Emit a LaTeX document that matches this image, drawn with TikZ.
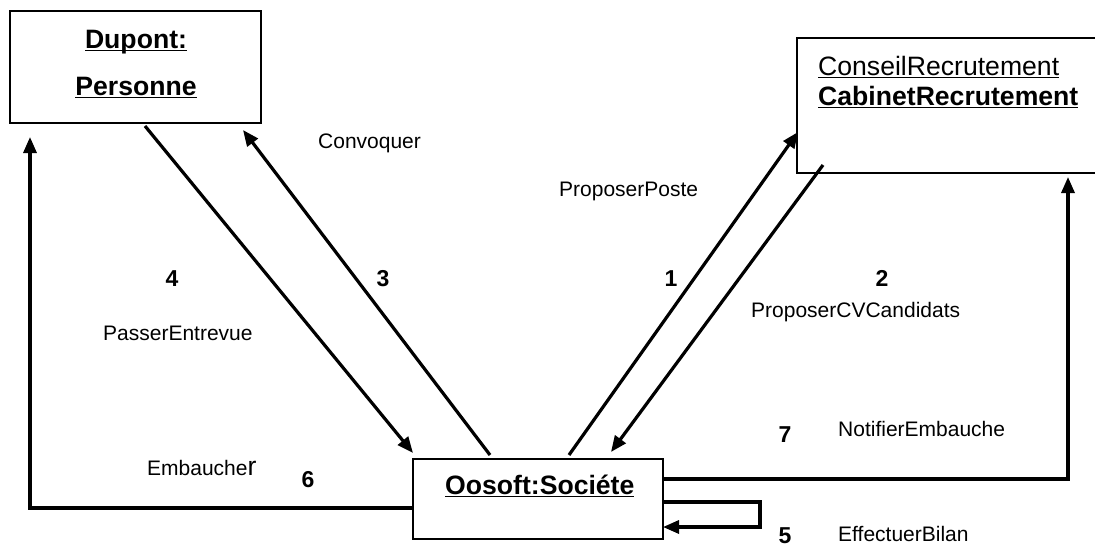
\documentclass[tikz,border=0pt]{standalone}
\usepackage{fontspec}
\setmainfont{Liberation Sans}
\usetikzlibrary{arrows.meta,calc}

% underline drawn at a fixed depth below the baseline
\newcommand\ulbox[1]{\setbox0\hbox{#1}\rlap{\rule[-3pt]{\wd0}{1.5pt}}\box0}

\tikzset{
  objbox/.style={draw, line width=1.8pt, outer sep=0pt, inner sep=0pt},
  conn/.style={line width=3.2pt, -{Triangle[length=16pt,width=13pt]}},
  msg/.style={font=\fontsize{21}{25}\selectfont, inner sep=0pt},
  num/.style={font=\fontsize{23}{27}\selectfont\bfseries, inner sep=0pt},
  objname/.style={font=\fontsize{26.6}{32}\selectfont\bfseries, inner sep=0pt},
  objrole/.style={font=\fontsize{26.6}{32}\selectfont, inner sep=0pt},
}

\begin{document}
\begin{tikzpicture}[x=1pt,y=-1pt]
  \fill[white] (0,0) rectangle (1095,546);
  \useasboundingbox (0,0) rectangle (1095,546);

  % object boxes
  \node[objbox, minimum width=251pt, minimum height=112pt] (dupont) at (135.5,67) {};
  \node[objbox, minimum width=304pt, minimum height=135pt] (cabinet) at (949,105.5) {};
  \node[objbox, minimum width=250pt, minimum height=80pt] (oosoft) at (538,499) {};

  % object names
  \node[objname, anchor=base] (dupont1) at (136,48) {\ulbox{Dupont:}};
  \node[objname, anchor=base] (dupont2) at (136,95) {\ulbox{Personne}};
  \node[objrole, anchor=base west] (cab1) at (818,75) {\ulbox{ConseilRecrutement}};
  \node[objname, anchor=base west] (cab2) at (818,105) {\ulbox{CabinetRecrutement}};
  \node[objname, anchor=base west] (oos1) at (445,494) {\ulbox{Oosoft:Sociéte}};

  % messages between the objects
  \draw[conn] ($(dupont.south west)+(135,3)$) -- ($(oosoft.north west)+(0,-6)$);
  \draw[conn] ($(oosoft.north west)+(77,-4)$) -- ($(dupont.south west)+(233,7)$);
  \draw[conn] ($(oosoft.north west)+(156,-4)$) -- ($(cabinet.south west)+(1,-41)$);
  \draw[conn] ($(cabinet.south west)+(26,-8)$) -- ($(oosoft.north west)+(198,-7)$);
  \draw[conn] ($(oosoft.north east)+(0,20)$) -| ($(cabinet.south west)+(271,4)$);
  \draw[conn] ($(oosoft.north west)+(0,49)$) -| ($(dupont.south west)+(20,14)$);
  \draw[conn] ($(oosoft.north east)+(0,43)$) -- ++(97,0) -- ++(0,25) -- ($(oosoft.north east)+(0,68)$);

  % message labels
  \node[msg, anchor=base west] (lconv) at (318,148) {Convoquer};
  \node[msg, anchor=base west] (lpost) at (559,196) {ProposerPoste};
  \node[msg, anchor=base west] (lentr) at (103,340) {PasserEntrevue};
  \node[msg, anchor=base west] (lcv) at (751,317) {ProposerCVCandidats};
  \node[msg, anchor=base west] (lnotif) at (838,436) {NotifierEmbauche};
  \node[msg, anchor=base west] (lbilan) at (838,541) {EffectuerBilan};
  \node[msg, anchor=base west] (lemb) at (147,475) {Embauche\fontsize{26.6}{32}\selectfont r};

  % sequence numbers
  \node[num, anchor=base] (n1) at (671,286) {1};
  \node[num, anchor=base] (n2) at (882,286) {2};
  \node[num, anchor=base] (n3) at (383,286) {3};
  \node[num, anchor=base] (n4) at (172,286) {4};
  \node[num, anchor=base] (n5) at (785,543) {5};
  \node[num, anchor=base] (n6) at (308,487) {6};
  \node[num, anchor=base] (n7) at (785,442) {7};
\end{tikzpicture}
\end{document}
